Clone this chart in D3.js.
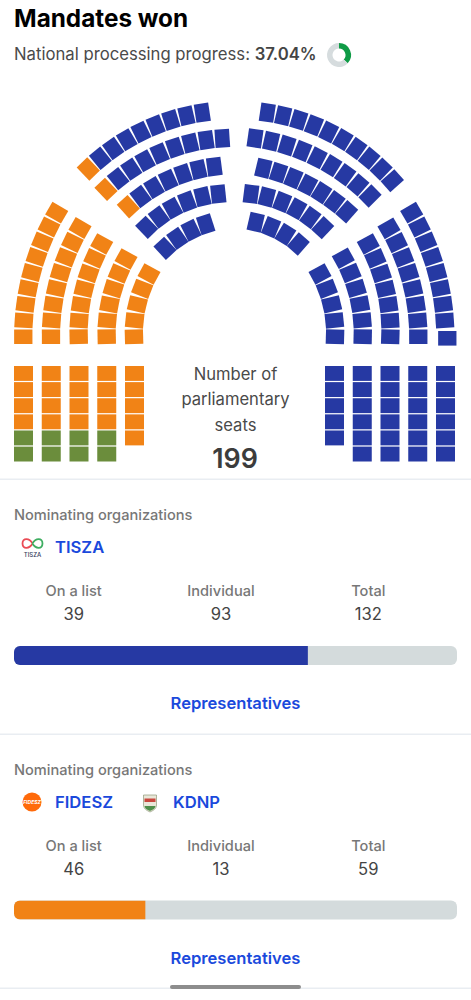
<!DOCTYPE html>
<html><head><meta charset="utf-8">
<script src="https://cdn.jsdelivr.net/npm/d3@7/dist/d3.min.js"></script>
<style>html,body{margin:0;padding:0;background:#fff}svg{display:block}text{font-family:Inter,"Noto Sans",sans-serif}</style>
</head><body><div id="chart"></div>
<script>
// ---- data ----
const titleText = "Mandates won";
const progressLabel = "National processing progress: ";
const progressValue = 37.04;
const totalSeats = 199;
const centerLines = ["Number of", "parliamentary", "seats"];
const leftArcCounts = [9, 8, 7, 6, 5];
const upperLeftArcCounts = [9, 9, 7, 6, 4];
const upperLeftOrangeSeats = [1, 1, 1, 0, 0];
const upperRightArcCounts = [10, 9, 7, 6, 4];
const rightArcCounts = [5, 6, 7, 8, 9];
const leftStackCounts = [6, 6, 6, 6, 5];
const leftStackGreen = [2, 2, 2, 2, 0];
const rightStackCounts = [5, 6, 6, 6, 6];
const statLabels = ["On a list", "Individual", "Total"];
const tiszaStats = [39, 93, 132];
const fideszStats = [46, 13, 59];
const linkText = "Representatives";
const orgHeading = "Nominating organizations";

// ---- layout ----
const W = 471, H = 1000;
const colors = {blue:"#2639a3", orange:"#f18316", green:"#6b8d3c", track:"#d4dbdc", link:"#1a49dc", grey:"#777", dark:"#444"};
const seatAlong = 14.6, seatAcross = 18.3;
const arcGeom = {
  left: [[23.3,336.7,56.7,212.7,30],[51,336.7,80,228,30],[78.7,336.7,101.7,244,30],[106.7,336.7,126,259,30],[134,336.7,149,274,30]],
  upperLeft: [[88.3,169,202.3,112.7,35],[106,189.3,222.3,138.3,40],[128.3,206.7,214.3,166.7,35],[146.7,227.3,218.3,194,38],[165,248.3,205.7,224.3,25]],
  upperRight: [[267.3,112.7,392.3,180.7,40],[255,138.3,370,196,37],[263.3,168.3,346.7,211.7,28],[251,194,322.7,227.7,36],[255.7,222.3,298.3,244,28]],
  right: [[320,274,335,336.7,30],[343.3,258.3,362.7,336.7,30],[368.3,244,390.3,336.7,30],[389,228.3,418.3,336.7,30],[411.7,212.7,445.3,336.7,30]]
};
const rad = d3.scaleLinear().domain([0,180]).range([0,Math.PI]);

function arcSeats(counts, geom, colorOf){
  const seats = [];
  counts.forEach((n,a)=>{
    const [x0,y0,x1,y1,turnDeg] = geom[a];
    const turn = rad(turnDeg);
    const chordAngle = Math.atan2(y1-y0,x1-x0);
    const chord = Math.hypot(x1-x0,y1-y0);
    const R = chord/(2*Math.sin(turn/2));
    const th0 = chordAngle - turn/2;
    const heading = d3.scaleLinear().domain([0,n-1]).range([th0, th0+turn]);
    d3.range(n).forEach(i=>{
      const th = heading(i);
      seats.push({
        x: x0 + R*(Math.sin(th)-Math.sin(th0)),
        y: y0 - R*(Math.cos(th)-Math.cos(th0)),
        rot: th*180/Math.PI,
        color: colorOf(a,i)
      });
    });
  });
  return seats;
}

const svg = d3.select("#chart").append("svg").attr("width",W).attr("height",H).attr("viewBox",`0 0 ${W} ${H}`);

// header
svg.append("text").attr("x",14).attr("y",27).attr("font-size",24.3).attr("font-weight",700).attr("fill","#000").text(titleText);
const sub = svg.append("text").attr("x",14).attr("y",60).attr("font-size",16.7).attr("fill","#4a4a4a");
sub.append("tspan").text(progressLabel);
sub.append("tspan").attr("font-weight",600).attr("fill","#444").text(progressValue.toFixed(2)+"%");
const donutG = svg.append("g").attr("transform","translate(339,55)");
const pie = d3.pie().sort(null)([progressValue,100-progressValue]);
const donutArc = d3.arc().innerRadius(6.5).outerRadius(12);
donutG.selectAll("path").data(pie).join("path").attr("d",donutArc).attr("fill",(d,i)=>i===0?"#0f9b46":"#d6dcde");

// hemicycle arcs
const seats = [
  ...arcSeats(leftArcCounts, arcGeom.left, ()=>colors.orange),
  ...arcSeats(upperLeftArcCounts, arcGeom.upperLeft, (a,i)=> i<upperLeftOrangeSeats[a]?colors.orange:colors.blue),
  ...arcSeats(upperRightArcCounts, arcGeom.upperRight, ()=>colors.blue),
  ...arcSeats(rightArcCounts, arcGeom.right, ()=>colors.blue)
];
// the outermost right arc's closing seat sits slightly off the arc
const lastSeat = seats[seats.length-1];
lastSeat.x += 2; lastSeat.y += 1.6; lastSeat.rot = 90;
svg.append("g").selectAll("rect").data(seats).join("rect")
  .attr("x",-seatAlong/2).attr("y",-seatAcross/2).attr("width",seatAlong).attr("height",seatAcross)
  .attr("transform",d=>`translate(${d.x},${d.y}) rotate(${d.rot})`)
  .attr("fill",d=>d.color);

// straight stacks
const rowY = d3.scaleLinear().domain([0,5]).range([366,446.6]);
const colLeft = d3.scaleLinear().domain([0,4]).range([14,125]);
const colRight = d3.scaleLinear().domain([0,4]).range([325,436]);
const stackCells = [];
leftStackCounts.forEach((n,c)=>d3.range(n).forEach(r=>stackCells.push({x:colLeft(c),y:rowY(r),color:r>=n-leftStackGreen[c]?colors.green:colors.orange})));
rightStackCounts.forEach((n,c)=>d3.range(n).forEach(r=>stackCells.push({x:colRight(c),y:rowY(r),color:colors.blue})));
svg.append("g").selectAll("rect").data(stackCells).join("rect")
  .attr("x",d=>d.x).attr("y",d=>d.y).attr("width",19).attr("height",14.9).attr("fill",d=>d.color);

// center label
svg.append("g").selectAll("text").data(centerLines).join("text")
  .attr("x",235.5).attr("y",(d,i)=>380+i*25.3).attr("text-anchor","middle").attr("font-size",16.6).attr("fill","#4a4a4a").text(d=>d);
svg.append("text").attr("x",235).attr("y",468).attr("text-anchor","middle").attr("font-size",26.8).attr("font-weight",600).attr("fill","#3c3c3c").text(totalSeats);

// dividers
const dividers = [479,734,988];
svg.append("g").selectAll("rect").data(dividers).join("rect").attr("x",0).attr("y",d=>d-0.5).attr("width",W).attr("height",1.5).attr("fill","#e9edf2");

// party panels
const barX = d3.scaleLinear().domain([0,totalSeats]).range([14,457]);
const statX = d3.scalePoint().domain(statLabels).range([73.7,368.3]);
function panel(top, stats, color){
  const g = svg.append("g");
  g.append("text").attr("x",14).attr("y",top+41).attr("font-size",14.6).attr("font-weight",500).attr("fill",colors.grey).text(orgHeading);
  g.selectAll("text.l").data(statLabels).join("text").attr("class","l").attr("x",d=>statX(d)).attr("y",top+117).attr("text-anchor","middle").attr("font-size",14.6).attr("font-weight",500).attr("fill",colors.grey).text(d=>d);
  g.selectAll("text.v").data(stats).join("text").attr("class","v").attr("x",(d,i)=>statX(statLabels[i])).attr("y",top+141).attr("text-anchor","middle").attr("font-size",16.6).attr("fill",colors.dark).text(d=>d);
  const clipId = "clip"+Math.round(top);
  g.append("clipPath").attr("id",clipId).append("rect").attr("x",barX(0)).attr("y",top+167).attr("width",barX(totalSeats)-barX(0)).attr("height",19).attr("rx",6);
  g.append("rect").attr("x",barX(0)).attr("y",top+167).attr("width",barX(totalSeats)-barX(0)).attr("height",19).attr("rx",6).attr("fill",colors.track);
  g.append("rect").attr("clip-path",`url(#${clipId})`).attr("x",barX(0)).attr("y",top+167).attr("width",barX(stats[2])-barX(0)).attr("height",19).attr("fill",color);
  g.append("text").attr("x",235.5).attr("y",top+230).attr("text-anchor","middle").attr("font-size",16.6).attr("font-weight",600).attr("fill",colors.link).text(linkText);
  return g;
}
panel(479, tiszaStats, colors.blue);
panel(733.5, fideszStats, colors.orange);

function orgName(x,y,t){svg.append("text").attr("x",x).attr("y",y).attr("font-size",16.6).attr("font-weight",600).attr("fill",colors.link).text(t);}
orgName(55,553,"TISZA"); orgName(55,808,"FIDESZ"); orgName(173,808,"KDNP");

// logos
const tl = svg.append("g").attr("transform","translate(32.5,543.5)");
tl.append("path").attr("d","M0,0 C-3,-5.5 -10,-6 -10,0 C-10,6 -3,5.5 0,0").attr("fill","none").attr("stroke","#ea4b55").attr("stroke-width",1.8);
tl.append("path").attr("d","M0,0 C3,-5.5 10,-6 10,0 C10,6 3,5.5 0,0").attr("fill","none").attr("stroke","#3fae62").attr("stroke-width",1.8);
svg.append("text").attr("x",32.5).attr("y",557).attr("text-anchor","middle").attr("font-size",6).attr("font-weight",500).attr("fill","#33405c").text("TISZA");
svg.append("circle").attr("cx",32).attr("cy",802).attr("r",9.5).attr("fill","#ff6a0a");
svg.append("text").attr("x",32).attr("y",804).attr("text-anchor","middle").attr("font-size",5).attr("font-weight",700).attr("font-style","italic").attr("fill","#fff").text("FIDESZ");
const k = svg.append("g").attr("transform","translate(150,803)");
k.append("path").attr("d","M-6.5,-8 H6.5 V2 C6.5,6 3,7.5 0,9 C-3,7.5 -6.5,6 -6.5,2 Z").attr("fill","#e9e6d8").attr("stroke","#8f9a78").attr("stroke-width",0.7);
k.append("rect").attr("x",-5.5).attr("y",-4.5).attr("width",11).attr("height",3.5).attr("fill","#c9463d");
k.append("path").attr("d","M-5.5,3 H5.5 C5,6 2,7 0,8 C-2,7 -5,6 -5.5,3 Z").attr("fill","#4f8f4a");

// scroll indicator
svg.append("rect").attr("x",170).attr("y",985).attr("width",131).attr("height",4).attr("rx",2).attr("fill","#8d8d8d");
</script></body></html>
